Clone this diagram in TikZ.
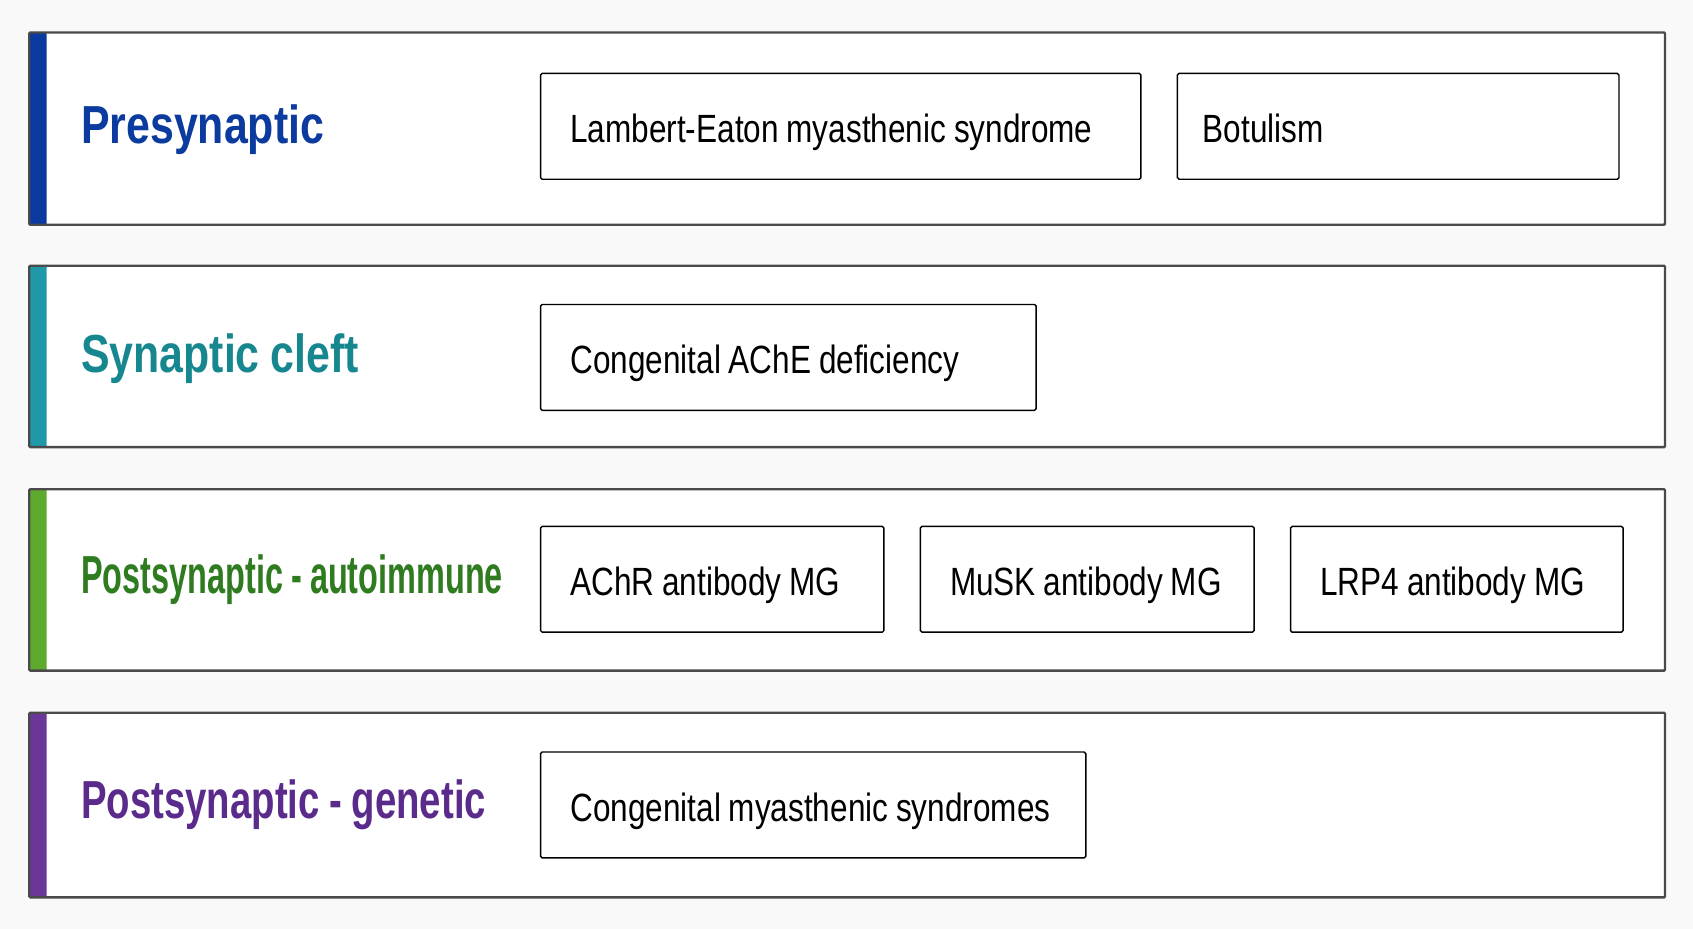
\documentclass[tikz,border=0pt]{standalone}
\usepackage{fontspec}
\usepackage{graphicx}
\newfontfamily\condfont{Liberation Sans}[FakeStretch=0.8,WordSpace=0.9]
\usetikzlibrary{positioning}

\definecolor{bggray}{HTML}{F9F9F9}
\definecolor{bandgray}{HTML}{4A4A4A}
\definecolor{presyn}{HTML}{0B3B9E}
\definecolor{cleft}{HTML}{16868F}
\definecolor{autoimm}{HTML}{2F7B1F}
\definecolor{genetic}{HTML}{5B2B8C}
\definecolor{presynbar}{HTML}{0A3AA0}
\definecolor{cleftbar}{HTML}{1F98A8}
\definecolor{autoimmbar}{HTML}{5DAA2F}
\definecolor{geneticbar}{HTML}{6A3698}

\begin{document}
\begin{tikzpicture}[
    x=1pt, y=-1pt,
    node distance=32.5pt,
    band/.style={draw=bandgray,line width=2.2pt,rounded corners=1pt,fill=white,
                 anchor=north west,minimum width=1515pt,inner sep=0pt,
                 path picture={\fill[#1] (path picture bounding box.south west)
                   rectangle ([xshift=16pt]path picture bounding box.north west);}},
    heading/.style={anchor=base west,inner sep=0pt,text=#1,
                    font=\condfont\bfseries\fontsize{49.6}{56}\selectfont},
    dbox/.style={draw=black,line width=1.3pt,rounded corners=1.5pt,fill=white,
                 anchor=west,minimum height=98pt,minimum width=#1,inner sep=0pt},
    dtext/.style={inner sep=0pt,text height=36pt,text depth=6pt,
                  font=\condfont\fontsize{36.5}{42}\selectfont},
  ]

  \fill[bggray] (0,0) rectangle (1568,860);
  \useasboundingbox (0,0) rectangle (1568,860);

  % one band per site of the defect, coloured strip on the left
  \node[band=presynbar,  minimum height=178pt] (bpre)   at (26,29)  {};
  \node[band=cleftbar,   minimum height=168pt] (bcleft) at (26,245) {};
  \node[band=autoimmbar, minimum height=168pt] (bauto)  at (26,452) {};
  \node[band=geneticbar, minimum height=171pt] (bgen)   at (26,659) {};

  % --- headings ---
  \node[heading=presyn]  (hpre)   at (75,133) {Presynaptic};
  \node[heading=cleft]   (hcleft) at (75,345) {Synaptic cleft};
  \node[heading=autoimm] (hauto)  at (75,550) {\scalebox{0.757}[1]{Postsynaptic - autoimmune}};
  \node[heading=genetic] (hgen)   at (75,758) {\scalebox{0.895}[1]{Postsynaptic - genetic}};

  % --- disorder boxes ---
  \node[dbox=556pt] (lems) at (500,117) {};
  \node[dbox=409pt,right=of lems] (botu) {};
  \node[dbox=459pt] (ache) at (500,331) {};
  \node[dbox=318pt] (achr) at (500,536.5) {};
  \node[dbox=309pt,right=of achr] (musk) {};
  \node[dbox=308pt,right=of musk] (lrp4) {};
  \node[dbox=505pt] (cms) at (500,745.5) {};

  % --- their texts, left aligned ---
  \node[dtext,right=28pt of lems.west] (lems-t) {Lambert-Eaton myasthenic syndrome};
  \node[dtext,right=24pt of botu.west] (botu-t) {Botulism};
  \node[dtext,right=28pt of ache.west] (ache-t) {Congenital AChE deficiency};
  \node[dtext,right=28pt of achr.west] (achr-t) {AChR antibody MG};
  \node[dtext,right=28pt of musk.west] (musk-t) {MuSK antibody MG};
  \node[dtext,right=28pt of lrp4.west] (lrp4-t) {LRP4 antibody MG};
  \node[dtext,right=28pt of cms.west]  (cms-t)  {Congenital myasthenic syndromes};

\end{tikzpicture}
\end{document}
